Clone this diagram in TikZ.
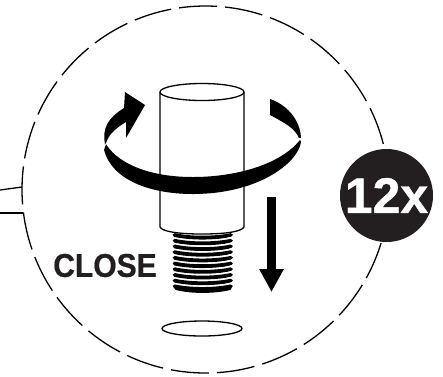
\documentclass[tikz,border=0pt]{standalone}
\usepackage{fontspec}
\setmainfont{Liberation Sans}
\newfontfamily\closefont[FakeStretch=0.91,FakeBold=0.6]{Liberation Sans Bold}
\newfontfamily\badgefont[FakeBold=0.8]{Liberation Sans Bold}
\usetikzlibrary{arrows.meta}
\definecolor{inkblack}{HTML}{231F20}
\tikzset{
  thin line/.style={line width=1.3pt, black},
  thread/.style={line width=3.8pt, black, line cap=round},
  thread gap/.style={line width=1.2pt, white, line cap=round}
}

\begin{document}
\begin{tikzpicture}[x=1pt, y=-1pt, >=stealth]
\useasboundingbox (0,0) rectangle (443,376);

% detail circle and its two lead lines
\coordinate (O) at (205.5,189.5);
\draw[thin line, dash pattern=on 38pt off 8.12pt] (O) circle (183.5pt);
\coordinate (L1) at (0,190);
\coordinate (L2) at (22,187);
\coordinate (L3) at (0,213);
\coordinate (L4) at (23,213);
\draw[thin line] (L1) -- (L2);
\draw[thin line] (L3) -- (L4);

% body of the bolt
\draw[thin line, fill=white] (160,92) -- (160,227) .. controls (162,231) and (175,234) .. (202,234) .. controls (229,234) and (242,231) .. (244,227) -- (244,92);
\draw[thin line, fill=white] (202,92) ellipse (42pt and 8.5pt);

% thread
\foreach \i in {0,...,9} {
  \draw[thread] (174.5,235+5.7*\i) .. controls (190,238.5+5.7*\i) and (215,238.5+5.7*\i) .. (231,235+5.7*\i);
  \draw[thread gap] (176,238.8+5.7*\i) .. controls (195,241.8+5.7*\i) and (220,241.8+5.7*\i) .. (232.5,236.8+5.7*\i);
}
\draw[thread] (176,288) .. controls (190,292) and (215,292) .. (230,288);

% seat below the bolt
\draw[thin line] (202,328.5) ellipse (40pt and 7.5pt);

% turning arrow
\fill[black] (105,144) .. controls (102,128) and (108,118) .. (124,108) -- (125,92) -- (145,105) -- (126,138) -- (126,122) .. controls (116,128) and (109,134) .. (106,143) -- cycle;
\fill[black] (106,144) .. controls (114,158) and (140,177) .. (193,177) .. controls (235,177) and (280,165) .. (300,140) -- (301,142) .. controls (298,163) and (258,194) .. (193,194) .. controls (150,194) and (112,180) .. (104,150) -- cycle;
\fill[black] (270,99) .. controls (285,104) and (300,118) .. (301,138) -- (299,138) .. controls (295,128) and (283,122) .. (270,115) -- cycle;

% down arrow
\coordinate (D1) at (271.5,197);
\coordinate (D2) at (271.5,292);
\draw[line width=9pt, -{Triangle[width=23pt,length=23pt]}] (D1) -- (D2);

\node[text=inkblack, inner sep=0pt] (close) at (105,265.5) {\closefont\fontsize{33}{33}\selectfont CLOSE};

\node[circle, fill=inkblack, minimum size=93pt, inner sep=0pt, text=white] (badge) at (386.5,195.5) {\badgefont\fontsize{50}{50}\selectfont 12x};
\end{tikzpicture}
\end{document}
